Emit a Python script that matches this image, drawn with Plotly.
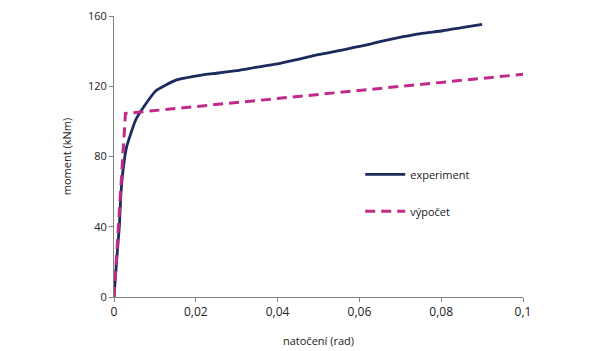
import plotly.graph_objects as go

# experiment curve (rotation rad, moment kNm)
exp_x = [0, 0.00065, 0.0013, 0.0017, 0.0023, 0.0031, 0.0053, 0.0072, 0.0102, 0.0153,
         0.021, 0.025, 0.03, 0.0333, 0.0406, 0.045, 0.0496, 0.055, 0.0618, 0.065, 0.0707,
         0.075, 0.0804, 0.085, 0.09]
exp_y = [0, 21, 40, 59, 74, 85.6, 100.8, 108, 117.3, 123.6,
         126.2, 127.4, 128.9, 130.2, 133, 135.3, 137.8, 140.3, 143.5, 145.4, 148.2,
         150, 151.6, 153.4, 155.2]

# calculation curve
calc_x = [0, 0.0028, 0.1]
calc_y = [0, 104.5, 126.8]

x_ticks = [0, 0.02, 0.04, 0.06, 0.08, 0.1]
y_ticks = [0, 40, 80, 120, 160]

fig = go.Figure()
fig.add_trace(go.Scatter(x=exp_x, y=exp_y, mode="lines", name="experiment",
                         line=dict(color="#1c2a5e", width=2.8, shape="spline", smoothing=0.5),
                         legendgroup="a"))
fig.add_trace(go.Scatter(x=calc_x, y=calc_y, mode="lines", name="výpočet",
                         line=dict(color="#c12a88", width=3, dash="10px,6px"), legendgroup="b"))

axis_common = dict(showgrid=False, zeroline=False, showline=True, linecolor="#808080",
                   linewidth=1, ticks="outside", ticklen=4, tickcolor="#808080",
                   automargin=False)
fig.update_xaxes(range=[0, 0.1], tickvals=x_ticks, **axis_common,
                 tickfont=dict(size=12, color="#222"),
                 title=dict(text="natočení (rad)", font=dict(size=11, color="#222"), standoff=17))
fig.update_yaxes(range=[0, 160], tickvals=y_ticks, **axis_common,
                 tickfont=dict(size=11, color="#222"),
                 title=dict(text="moment (kNm)", font=dict(size=11, color="#222"), standoff=14))

fig.update_layout(
    width=600, height=351,
    margin=dict(l=114, r=77, t=16, b=54),
    plot_bgcolor="white", paper_bgcolor="white",
    separators=", ",
    font=dict(family="Open Sans", size=11, color="#222"),
    legend=dict(x=0.602, y=0.488, xanchor="left", yanchor="top",
                tracegroupgap=18, font=dict(size=11, color="#222"),
                bgcolor="rgba(0,0,0,0)", itemwidth=40),
)
fig.write_html("out.html")
